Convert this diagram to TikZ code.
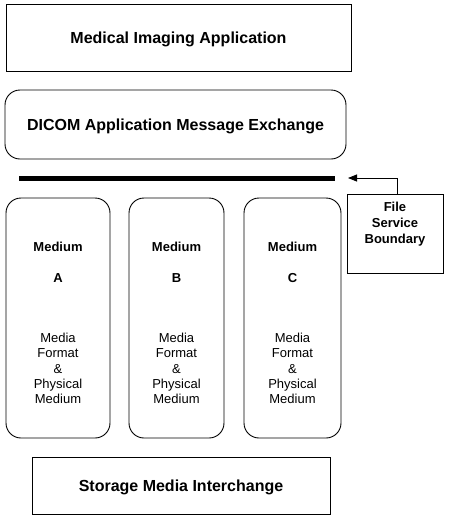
\documentclass[tikz,border=0pt]{standalone}
\usepackage{fontspec}
\setmainfont{Liberation Sans}
\usetikzlibrary{arrows.meta,positioning,calc}

\tikzset{
  layerbox/.style={draw,line width=0.9pt,minimum height=#1},
  mediumbox/.style={draw,line width=0.9pt,rounded corners=15pt,minimum width=#1,minimum height=240pt},
  bigtext/.style={font=\bfseries\fontsize{16}{19}\selectfont,text depth=0pt},
  smalltext/.style={font=\fontsize{13}{15.3}\selectfont,align=center,inner sep=0pt},
}

\begin{document}
\begin{tikzpicture}[x=1pt,y=-1pt]
\useasboundingbox (0,0) rectangle (448,520);
% layers
\node[layerbox=67pt,minimum width=345pt,bigtext] (app) at (178.5,37.5) {Medical Imaging Application};
\node[layerbox=69pt,minimum width=341pt,rounded corners=15pt,bigtext] (dicom) at (175.5,124.5) {DICOM Application Message Exchange};
\node[layerbox=57pt,minimum width=298pt,bigtext] (smi) at (181,485.5) {Storage Media Interchange};
% boundary bar
\coordinate (barl) at (19,178.5);
\coordinate (barr) at (335,178.5);
\draw[line width=5pt] (barl) -- (barr);
% media
\foreach \c/\w/\l in {58/104/A, 176.5/95/B, 292.5/97/C} {
  \node[mediumbox=\w pt] (med\l) at (\c,318) {};
  \node[smalltext,font=\bfseries\fontsize{13}{15.3}\selectfont] (medname\l) at (\c,247) {Medium};
  \node[smalltext,font=\bfseries\fontsize{13}{15.3}\selectfont] (medlet\l) at (\c,278) {\l};
  \node[smalltext] (medfmt\l) at (\c,368.5) {Media\\Format\\\&\\Physical\\Medium};
}
% file service boundary
\node[draw,line width=0.9pt,minimum width=96pt,minimum height=79pt] (fsb) at (395,233.5) {};
\node[smalltext,font=\bfseries\fontsize{13}{16}\selectfont] (fsbtext) at (395,224) {File\\Service\\Boundary};
\coordinate (tip) at (348,178);
\draw[line width=0.8pt,-{Triangle[length=9pt,width=7pt]}] (fsb.north -| 397,0) |- (tip);
\end{tikzpicture}
\end{document}
